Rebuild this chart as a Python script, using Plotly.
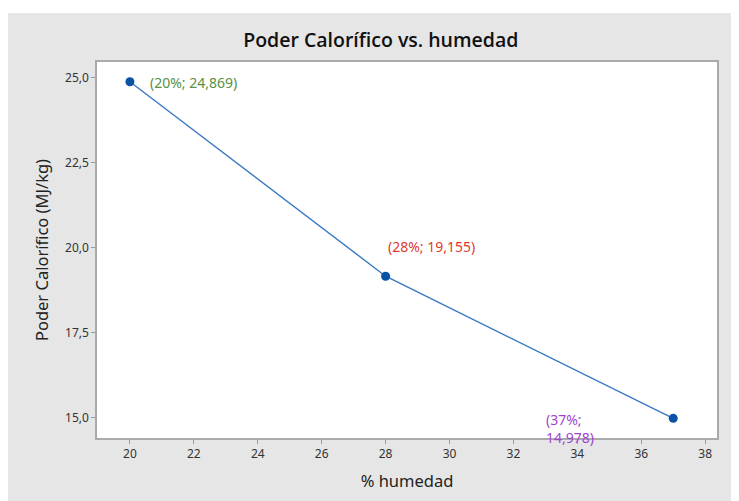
import plotly.graph_objects as go

humedad = [20, 28, 37]
poder_calorifico = [24.869, 19.155, 14.978]
etiquetas = ["(20%; 24,869)", "(28%; 19,155)", "(37%;<br>14,978)"]
colores_etiqueta = ["#5a8f45", "#e03a2e", "#a144d4"]

x_ticks = list(range(20, 40, 2))
y_ticks = [15.0, 17.5, 20.0, 22.5, 25.0]
y_tick_text = ["15,0", "17,5", "20,0", "22,5", "25,0"]

fig = go.Figure()

fig.add_trace(
    go.Scatter(
        x=humedad,
        y=poder_calorifico,
        mode="lines+markers",
        line=dict(color="#3a78c4", width=1.4),
        marker=dict(color="#0a52a3", size=9),
        showlegend=False,
    )
)

# etiquetas de los puntos
offsets = [
    dict(xanchor="left", yanchor="middle", xshift=18, yshift=-1),
    dict(xanchor="left", yanchor="middle", xshift=0, yshift=30),
    dict(xanchor="left", yanchor="top", xshift=-129, yshift=10),
]
for x, y, txt, col, off in zip(humedad, poder_calorifico, etiquetas, colores_etiqueta, offsets):
    fig.add_annotation(
        x=x, y=y, text=txt, showarrow=False, align="left",
        font=dict(color=col, size=14, family="Noto Sans"),
        **off,
    )

# franja blanca arriba del panel gris
fig.add_shape(
    type="rect", xref="paper", yref="paper",
    x0=-0.3, x1=1.2, y0=1.1303, y1=1.25,
    fillcolor="white", line=dict(width=0), layer="below",
)

fig.update_layout(
    width=731,
    height=493,
    margin=dict(l=89, r=22, t=54, b=63),
    paper_bgcolor="#e6e6e6",
    plot_bgcolor="white",
    font=dict(family="Noto Sans", color="#222"),
    title=dict(
        text="Poder Calorífico vs. humedad",
        x=0.51, xanchor="center", y=0.935, yanchor="middle",
        font=dict(size=19.5, color="#111", family="Open Sans", weight=600),
    ),
    xaxis=dict(
        range=[18.97, 38.37],
        tickvals=x_ticks,
        ticks="outside", ticklen=4, tickcolor="#999",
        showgrid=False, zeroline=False,
        showline=True, linecolor="#aaa", linewidth=1.5, mirror=True,
        tickfont=dict(size=12, color="#333"),
        title=dict(text="% humedad", font=dict(size=16.5, color="#222"), standoff=14),
    ),
    yaxis=dict(
        range=[14.40, 25.45],
        tickvals=y_ticks,
        ticktext=y_tick_text,
        ticks="outside", ticklen=4, tickcolor="#999",
        showgrid=False, zeroline=False,
        showline=True, linecolor="#aaa", linewidth=1.5, mirror=True,
        tickfont=dict(size=12, color="#333"),
        title=dict(text="Poder Calorífico (MJ/kg)", font=dict(size=16.5, color="#222"), standoff=12),
    ),
)

fig.write_html("out.html")
